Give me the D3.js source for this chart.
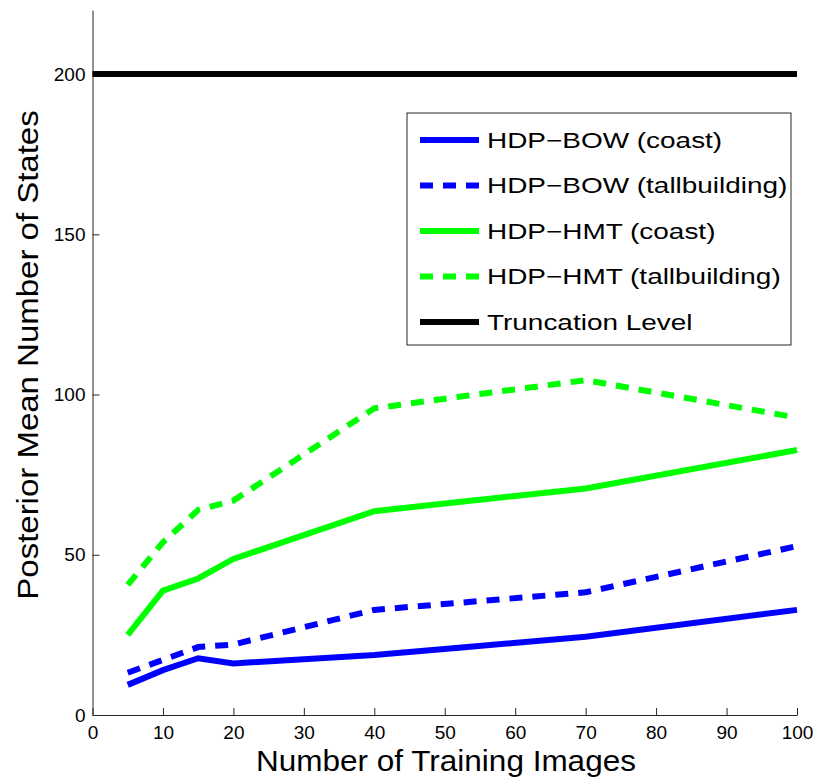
<!DOCTYPE html>
<html><head><meta charset="utf-8">
<script src="https://cdn.jsdelivr.net/npm/d3@7"></script>
<style>body{margin:0;background:#fff}svg{display:block}text{font-family:"Liberation Sans",Arial,Helvetica,sans-serif}</style>
</head><body>
<script>
const xValues = [5, 10, 15, 20, 40, 52, 70, 100];
const bowCoast = [9.4, 14.0, 17.7, 16.1, 18.7, 21.0, 24.4, 32.8];
const bowTall = [13.2, 17.2, 21.2, 22.0, 32.8, 35.0, 38.3, 52.7];
const hmtCoast = [25.0, 38.8, 42.6, 48.7, 63.6, 66.5, 70.7, 82.7];
const hmtTall = [40.6, 53.9, 64.0, 66.9, 95.7, 99.3, 104.5, 92.8];
const truncX = [0, 100];
const truncY = [200, 200];
const xTicks = [0, 10, 20, 30, 40, 50, 60, 70, 80, 90, 100];
const yTicks = [0, 50, 100, 150, 200];
const seriesNames = ["HDP\u2212BOW (coast)", "HDP\u2212BOW (tallbuilding)", "HDP\u2212HMT (coast)", "HDP\u2212HMT (tallbuilding)", "Truncation Level"];
const seriesColors = ["#0000ff", "#0000ff", "#00ff00", "#00ff00", "#000000"];
const seriesDashed = [false, true, false, true, false];

const W = 817, H = 780;
const svg = d3.select("body").append("svg").attr("width", W).attr("height", H);
const x = d3.scaleLinear().domain([0, 100]).range([92.5, 797]);
const y = d3.scaleLinear().domain([0, 220]).range([715, 10]);

// axes
const gx = svg.append("g").attr("transform", "translate(0,715)")
  .call(d3.axisBottom(x).tickValues(xTicks).tickSizeInner(-7).tickSizeOuter(0).tickPadding(11));
const gy = svg.append("g").attr("transform", "translate(92.5,0)")
  .call(d3.axisLeft(y).tickValues(yTicks).tickSizeInner(-7).tickSizeOuter(0).tickPadding(7));
[gx, gy].forEach(g => {
  g.selectAll("path, line").attr("stroke", "#262626").attr("stroke-width", 1);
  g.selectAll("text").attr("font-size", 19).attr("fill", "#000").attr("font-family", '"Liberation Sans",Arial,sans-serif');
});

const line = d3.line().x(d => x(d[0])).y(d => y(d[1]));
const allSeries = [bowCoast, bowTall, hmtCoast, hmtTall];
const plot = svg.append("g");
plot.append("path").datum(truncX.map((v, i) => [v, truncY[i]]))
  .attr("d", line).attr("fill", "none").attr("stroke", "#000").attr("stroke-width", 6);
allSeries.forEach((s, i) => {
  plot.append("path").datum(xValues.map((v, j) => [v, s[j]]))
    .attr("d", line).attr("fill", "none")
    .attr("stroke", seriesColors[i]).attr("stroke-width", 6)
    .attr("stroke-dasharray", seriesDashed[i] ? "13,10" : null);
});

// legend
const lg = svg.append("g");
lg.append("rect").attr("x", 407).attr("y", 113).attr("width", 384).attr("height", 232)
  .attr("fill", "#fff").attr("stroke", "#262626").attr("stroke-width", 1);
seriesNames.forEach((n, i) => {
  const cy = 140 + i * 45.5;
  lg.append("line").attr("x1", 420).attr("x2", 479).attr("y1", cy).attr("y2", cy)
    .attr("stroke", seriesColors[i]).attr("stroke-width", 6)
    .attr("stroke-dasharray", seriesDashed[i] ? "13,10" : null);
  lg.append("text").attr("transform", `translate(487,${cy}) scale(1.3,1)`).attr("dy", "0.35em")
    .attr("font-size", 21.5).text(n);
});

// axis titles
svg.append("text").attr("transform", "translate(446,771) scale(1.05,1)").attr("text-anchor", "middle")
  .attr("font-size", 30).text("Number of Training Images");
svg.append("text").attr("transform", "translate(38,355) rotate(-90) scale(1.1,1)").attr("text-anchor", "middle")
  .attr("font-size", 30).text("Posterior Mean Number of States");
</script>
</body></html>
